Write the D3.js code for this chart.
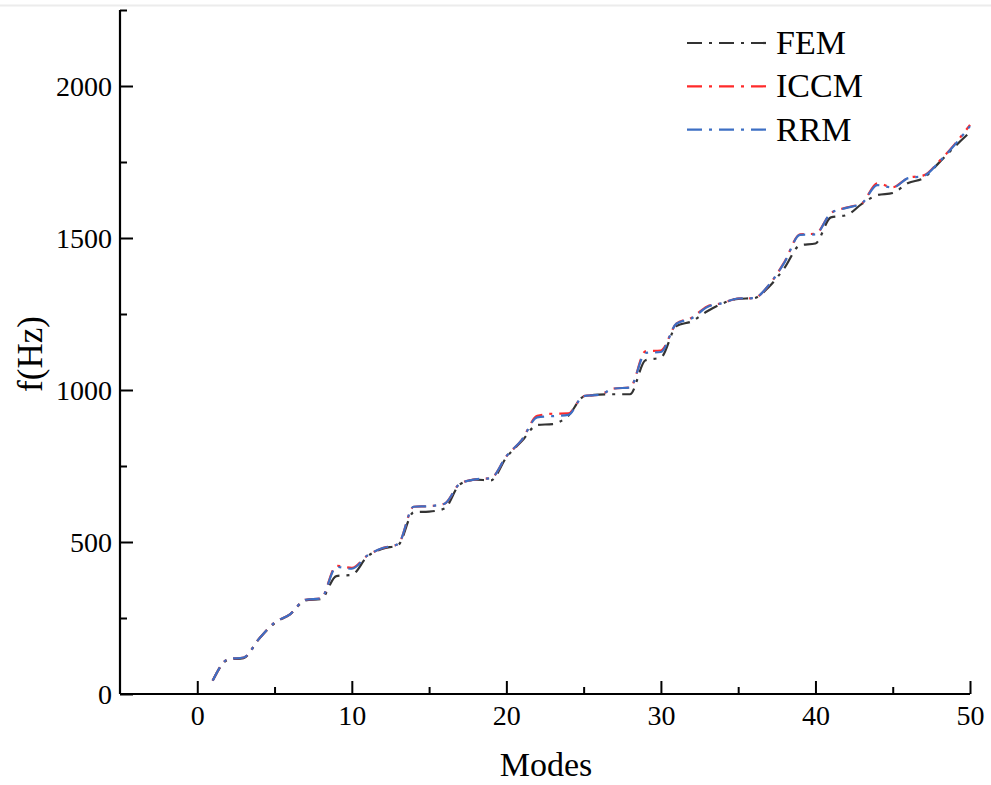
<!DOCTYPE html>
<html>
<head>
<meta charset="utf-8">
<script src="https://cdn.jsdelivr.net/npm/d3@7/dist/d3.min.js"></script>
<style>
  html, body { margin: 0; padding: 0; background: #fff; }
  svg { display: block; }
  text { font-family: "Liberation Serif", "Times New Roman", serif; fill: #000; }
</style>
</head>
<body>
<svg id="chart" width="991" height="785"></svg>
<script>
// ---------- data ----------
const modes = d3.range(1, 51);
const femValues = [44,113,118,182,233,262,308,312,388,392,
                   452,478,490,598,600,610,690,705,703,778,
                   832,885,888,915,978,985,986,986,1098,1107,
                   1210,1226,1259,1285,1300,1302,1340,1402,1476,1482,
                   1568,1575,1612,1641,1648,1681,1697,1748,1800,1848];
const iccmValues = [44,115,120,182,235,262,310,314,422,415,
                    455,480,493,616,618,626,692,706,710,782,
                    836,915,922,923,980,984,1005,1008,1127,1130,
                    1218,1238,1275,1286,1301,1302,1346,1422,1512,1514,
                    1582,1600,1614,1680,1667,1698,1706,1752,1808,1872];
const rrmValues = [44,115,120,182,235,262,310,314,418,412,
                   455,480,493,616,618,626,692,706,710,782,
                   836,910,914,918,980,984,1005,1008,1122,1125,
                   1218,1236,1273,1286,1301,1302,1346,1420,1510,1512,
                   1582,1599,1614,1674,1666,1697,1704,1750,1806,1868];
const seriesNames = ["FEM", "ICCM", "RRM"];
const seriesColors = ["#333333", "#ff2a2a", "#3d6fc4"];
const xMajorTicks = [0, 10, 20, 30, 40, 50];
const xMinorTicks = [5, 15, 25, 35, 45];
const yMajorTicks = [0, 500, 1000, 1500, 2000];
const yMinorTicks = [250, 750, 1250, 1750, 2250];
const xLabel = "Modes";
const yLabel = "f(Hz)";

// ---------- layout ----------
const svg = d3.select("#chart");
const x = d3.scaleLinear().domain([-5, 50]).range([120, 970]);
const y = d3.scaleLinear().domain([0, 2250]).range([694, 10]);

// faint top border line
svg.append("line").attr("x1", 0).attr("x2", 991).attr("y1", 5.5).attr("y2", 5.5)
  .attr("stroke", "#ececec").attr("stroke-width", 2);

const dash = "15,7,3,7";
const allSeries = [femValues, iccmValues, rrmValues];
const line = d3.line().x((d, i) => x(modes[i])).y(d => y(d)).curve(d3.curveMonotoneX);

allSeries.forEach((vals, k) => {
  svg.append("path").datum(vals)
    .attr("d", line)
    .attr("fill", "none")
    .attr("stroke", seriesColors[k])
    .attr("stroke-width", 2.2)
    .attr("stroke-dasharray", dash)
    .attr("stroke-linejoin", "round");
});

// ---------- axes ----------
const xAxisG = svg.append("g").attr("transform", `translate(0,${y(0)})`);
xAxisG.call(d3.axisBottom(x).tickValues(xMajorTicks).tickSize(-13).tickFormat(d3.format("d")));
const xMinorG = svg.append("g").attr("transform", `translate(0,${y(0)})`);
xMinorG.call(d3.axisBottom(x).tickValues(xMinorTicks).tickSize(-7).tickFormat(""));
xMinorG.select(".domain").remove();

const yAxisG = svg.append("g").attr("transform", `translate(${x(-5)},0)`);
yAxisG.call(d3.axisLeft(y).tickValues(yMajorTicks).tickSize(-13).tickFormat(d3.format("d")));
const yMinorG = svg.append("g").attr("transform", `translate(${x(-5)},0)`);
yMinorG.call(d3.axisLeft(y).tickValues(yMinorTicks).tickSize(-7).tickFormat(""));
yMinorG.select(".domain").remove();

[xAxisG, xMinorG, yAxisG, yMinorG].forEach(g => {
  g.selectAll("line").attr("stroke", "#000").attr("stroke-width", 2);
  g.selectAll(".domain").attr("stroke", "#000").attr("stroke-width", 2.2);
});
xAxisG.select(".domain").attr("d", `M${x(-5)},0H${x(50)}`);
yAxisG.select(".domain").attr("d", `M0,${y(0)}V${y(2250)}`);

xAxisG.selectAll("text")
  .attr("y", 31).attr("dy", 0)
  .style("font-family", '"Liberation Serif", "Times New Roman", serif')
  .style("font-size", "28px").attr("fill", "#000");
yAxisG.selectAll("text")
  .attr("x", -8).attr("dy", "0.33em")
  .style("font-family", '"Liberation Serif", "Times New Roman", serif')
  .style("font-size", "28px").attr("fill", "#000");

// axis titles
svg.append("text").attr("x", 546).attr("y", 776).attr("text-anchor", "middle")
  .style("font-size", "34px").text(xLabel);
svg.append("text").attr("transform", "translate(42,354) rotate(-90)")
  .attr("text-anchor", "middle").style("font-size", "35px").text(yLabel);

// ---------- legend ----------
const legend = svg.append("g");
seriesNames.forEach((name, k) => {
  const ly = 43 + k * 43.3;
  legend.append("line").attr("x1", 687).attr("x2", 768).attr("y1", ly).attr("y2", ly)
    .attr("stroke", seriesColors[k]).attr("stroke-width", 2.2).attr("stroke-dasharray", dash);
  legend.append("text").attr("x", 776).attr("y", ly + 11).style("font-size", "34px").text(name);
});
</script>
</body>
</html>
